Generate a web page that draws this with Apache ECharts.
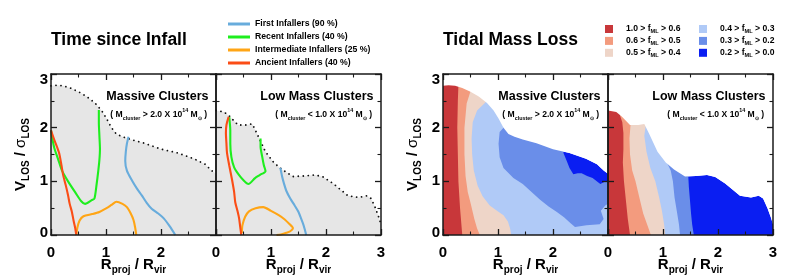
<!DOCTYPE html>
<html><head><meta charset="utf-8">
<script src="https://cdn.jsdelivr.net/npm/echarts@6/dist/echarts.min.js"></script>
<style>html,body{margin:0;padding:0;background:#fff}#c{width:789px;height:280px}</style>
</head><body><div id="c"></div>
<script>
// ---------------- DATA ----------------
const axisTicks = [0, 1, 2, 3];
const figureTitles = ['Time since Infall', 'Tidal Mass Loss'];
const panelTitles = ['Massive Clusters', 'Low Mass Clusters'];
const panelSubtitles = [['>', '2.0'], ['<', '1.0']];
const infallNames = ['First Infallers (90 %)', 'Recent Infallers (40 %)', 'Intermediate Infallers (25 %)', 'Ancient Infallers (40 %)'];
const infallColors = ['#68acdc', '#1eee1e', '#ffa515', '#fb4d16'];
const bandNames = ['1.0 > f_ML > 0.6', '0.6 > f_ML > 0.5', '0.5 > f_ML > 0.4', '0.4 > f_ML > 0.3', '0.3 > f_ML > 0.2', '0.2 > f_ML > 0.0'];
const bandColors = ['#c8373a', '#f39b7e', '#eed5c8', '#b0caf7', '#6a8ee9', '#0a1ef2'];

// envelope of the galaxy distribution (dotted curve / outer edge of the filled map)
const envelopeMassive = [[0,2.78],[0.1,2.79],[0.22,2.78],[0.35,2.74],[0.5,2.67],[0.65,2.58],[0.8,2.46],[0.92,2.32],[1.01,2.17],[1.1,2.0],[1.19,1.88],[1.3,1.83],[1.45,1.78],[1.7,1.71],[2.0,1.6],[2.3,1.53],[2.6,1.42],[2.8,1.32],[2.92,1.2],[3,1.14]];
const envelopeLow = [[0,2.32],[0.15,2.29],[0.25,2.21],[0.4,2.05],[0.55,2.05],[0.66,2.07],[0.75,1.88],[0.9,1.55],[1.05,1.35],[1.2,1.22],[1.4,1.09],[1.6,1.1],[1.8,1.12],[1.95,1.08],[2.13,0.96],[2.4,0.73],[2.6,0.7],[2.74,0.73],[2.82,0.68],[2.9,0.5],[2.96,0.33],[3,0.2]];

// infall-time contours, massive clusters
const firstMassive = [[1.41,1.83],[1.38,1.7],[1.36,1.55],[1.35,1.38],[1.38,1.2],[1.47,1.02],[1.56,0.87],[1.65,0.74],[1.74,0.6],[1.83,0.49],[1.95,0.4],[2.05,0.31],[2.16,0.16],[2.26,0]];
const recentMassive = [[0.87,2.33],[0.87,2.1],[0.88,1.85],[0.89,1.6],[0.88,1.4],[0.86,1.2],[0.83,0.95],[0.79,0.68],[0.74,0.65],[0.62,0.58],[0.55,0.63],[0.45,0.78],[0.31,1.0],[0.2,1.2],[0.13,1.41],[0.06,1.62],[0.02,1.82],[0,1.95]];
const intermediateMassive = [[0.46,0],[0.48,0.14],[0.52,0.27],[0.59,0.35],[0.75,0.39],[0.88,0.43],[1.01,0.5],[1.1,0.56],[1.19,0.62],[1.3,0.58],[1.38,0.52],[1.45,0.4],[1.5,0.28],[1.53,0.14],[1.55,0]];
const ancientMassive = [[0,1.95],[0.05,1.8],[0.11,1.64],[0.15,1.52],[0.19,1.3],[0.22,1.12],[0.27,0.92],[0.31,0.74],[0.34,0.58],[0.38,0.43],[0.41,0.27],[0.44,0.13],[0.46,0]];

// infall-time contours, low-mass clusters
const firstLow = [[1.17,1.25],[1.2,1.1],[1.23,0.98],[1.28,0.82],[1.35,0.68],[1.43,0.55],[1.5,0.43],[1.55,0.3],[1.59,0.19],[1.62,0.08],[1.64,0]];
const recentLow = [[0.81,1.8],[0.81,1.65],[0.84,1.46],[0.87,1.3],[0.9,1.19],[0.8,1.12],[0.71,1.06],[0.59,0.95],[0.5,1.02],[0.41,1.13],[0.33,1.26],[0.28,1.45],[0.26,1.7],[0.26,1.95],[0.24,2.2]];
const intermediateLow = [[0.47,0.04],[0.48,0.18],[0.53,0.34],[0.6,0.44],[0.72,0.5],[0.86,0.52],[1.0,0.45],[1.14,0.37],[1.25,0.29],[1.34,0.2],[1.4,0.13],[1.35,0.07],[1.28,0.04],[1.18,0.01],[1.1,0]];
const ancientLow = [[0.23,2.2],[0.19,2.05],[0.18,1.9],[0.19,1.7],[0.2,1.53],[0.24,1.3],[0.29,1.04],[0.33,0.8],[0.35,0.61],[0.39,0.45],[0.42,0.31],[0.44,0.15],[0.46,0]];

// tidal mass-loss level boundaries (region to the left of each curve has f_ML above the level)
const massiveAbove06 = [[0.28,2.78],[0.27,2.5],[0.26,2.0],[0.27,1.5],[0.28,1.0],[0.31,0.5],[0.35,0]];
const massiveAbove05 = [[0.5,2.68],[0.43,2.45],[0.39,2.0],[0.39,1.5],[0.41,1.1],[0.45,0.8],[0.5,0.6],[0.57,0.3],[0.62,0.12],[0.67,0]];
const massiveAbove04 = [[0.78,2.48],[0.62,2.32],[0.54,2.1],[0.52,1.8],[0.53,1.5],[0.56,1.2],[0.63,0.92],[0.72,0.72],[0.85,0.55],[1.0,0.44],[1.1,0.37],[1.18,0.25],[1.22,0.12],[1.24,0]];
const massiveAbove03 = [[1.1,2.0],[1.03,1.92],[1.01,1.7],[1.03,1.45],[1.1,1.25],[1.28,1.06],[1.45,0.95],[1.59,0.82],[1.76,0.66],[1.92,0.53],[2.07,0.43],[2.2,0.33],[2.32,0.22],[2.4,0.15],[2.61,0.18],[2.85,0.2],[2.92,0.3],[2.87,0.45],[2.95,0.55],[3,0.58]];
const massiveAbove02 = [[2.19,1.53],[2.25,1.38],[2.3,1.25],[2.37,1.13],[2.45,1.15],[2.52,1.15],[2.62,1.1],[2.72,1.06],[2.86,0.95],[2.94,0.99],[3,1.0]];
const lowAbove06 = [[0.22,2.22],[0.26,2.1],[0.28,1.9],[0.28,1.6],[0.27,1.35],[0.29,1.0],[0.33,0.6],[0.36,0.3],[0.4,0]];
const lowAbove05 = [[0.41,2.05],[0.39,1.8],[0.4,1.5],[0.44,1.2],[0.5,1.0],[0.57,0.7],[0.64,0.4],[0.71,0.2],[0.78,0]];
const lowAbove04 = [[0.69,2.07],[0.66,1.85],[0.7,1.55],[0.77,1.25],[0.86,1.0],[0.93,0.7],[0.98,0.45],[1.02,0.2],[1.04,0]];
const lowAbove03 = [[1.08,1.33],[1.14,1.2],[1.18,1.0],[1.21,0.7],[1.25,0.45],[1.29,0.2],[1.31,0]];
const lowAbove02 = [[1.46,1.09],[1.47,0.9],[1.49,0.65],[1.51,0.4],[1.53,0.2],[1.56,0]];

// ---------------- LAYOUT / STYLE ----------------
const FONT = '"Liberation Sans", Arial, Helvetica, sans-serif';
const AX = '#1a1a1a';
const GL = [51, 216, 443, 608], GT = 74, GW = 165, GH = 163;
const XMIN = axisTicks[0], XMAX = axisTicks[axisTicks.length - 1];

const chart = echarts.init(document.getElementById('c'), null, {renderer: 'canvas'});

const nameRich = {
  b: {fontSize: 15, fontWeight: 'bold', fontFamily: FONT, color: '#000', lineHeight: 20, verticalAlign: 'middle'},
  r: {fontSize: 15, fontWeight: 'normal', fontFamily: FONT, color: '#000', lineHeight: 20, verticalAlign: 'middle'},
  s: {fontSize: 10, fontWeight: 'bold', fontFamily: FONT, color: '#000', lineHeight: 10, verticalAlign: 'bottom'}
};
const xName = '{b|R}{s|proj}{b| / R}{s|vir}';
const yName = '{b|V}{s|LOS}{b| / }{r|σ}{s|LOS}';

const tickLabelRich = {
  n: {fontSize: 15, fontWeight: 'bold', fontFamily: FONT, color: '#000'},
  lo: {fontSize: 15, fontWeight: 'bold', fontFamily: FONT, color: '#000', padding: [0, 0, 4, 0]},
  hi: {fontSize: 15, fontWeight: 'bold', fontFamily: FONT, color: '#000', padding: [12, 0, 0, 0]}
};
function yTickFmt(v) { return v === XMIN ? '{lo|' + v + '}' : v === XMAX ? '{hi|' + v + '}' : '{n|' + v + '}'; }

const xAxes = [], yAxes = [];
function tickCfg() {
  return {
    axisLine: {show: true, onZero: false, lineStyle: {color: AX, width: 1.5}},
    axisTick: {show: true, inside: true, length: 6, lineStyle: {color: AX, width: 1.3}},
    minorTick: {show: true, splitNumber: 2, length: 3.5, lineStyle: {color: AX, width: 1.1}},
    splitLine: {show: false}, minorSplitLine: {show: false}
  };
}
for (let g = 0; g < 4; g++) {
  const firstOfPair = (g % 2 === 0);
  xAxes.push(Object.assign({
    gridIndex: g, type: 'value', min: XMIN, max: XMAX, interval: 1, position: 'bottom', z: 10,
    axisLabel: {show: true, fontSize: 15, fontWeight: 'bold', fontFamily: FONT, color: '#000', margin: 10, showMaxLabel: !firstOfPair, showMinLabel: true, hideOverlap: false},
    name: xName, nameLocation: 'middle', nameGap: 20, nameTextStyle: {rich: nameRich}, nameMoveOverlap: false
  }, tickCfg()));
  xAxes.push(Object.assign({
    gridIndex: g, type: 'value', min: XMIN, max: XMAX, interval: 1, position: 'top', z: 10,
    axisLabel: {show: false}
  }, tickCfg()));
  yAxes.push(Object.assign({
    gridIndex: g, type: 'value', min: XMIN, max: XMAX, interval: 1, position: 'left', z: 10,
    axisLabel: {show: firstOfPair, formatter: yTickFmt, rich: tickLabelRich, margin: 3, hideOverlap: false},
    name: firstOfPair ? yName : '', nameLocation: 'middle', nameGap: 20, nameTextStyle: {rich: nameRich}, nameMoveOverlap: false
  }, tickCfg()));
  yAxes.push(Object.assign({
    gridIndex: g, type: 'value', min: XMIN, max: XMAX, interval: 1, position: 'right', z: 10,
    axisLabel: {show: false}
  }, tickCfg()));
}

const series = [];
function lineSeries(name, g, data, color) {
  series.push({type: 'line', name, xAxisIndex: 2 * g, yAxisIndex: 2 * g, data, symbol: 'none', smooth: 0.25,
    lineStyle: {color, width: 2.1}, itemStyle: {color}, z: 3, silent: true, animation: false});
}
function envelopeSeries(g, env) {
  series.push({type: 'line', name: 'envelope', xAxisIndex: 2 * g, yAxisIndex: 2 * g, data: env, symbol: 'none',
    lineStyle: {color: '#111', width: 1.8, type: [0.01, 5], cap: 'round'},
    areaStyle: {color: '#e6e6e6', opacity: 1}, z: 1, silent: true, animation: false});
}
function polySeries(name, g, pts, color, z) {
  series.push({type: 'custom', name, xAxisIndex: 2 * g, yAxisIndex: 2 * g, z, silent: true, animation: false,
    itemStyle: {color}, data: [[1, 1]],
    renderItem: (params, api) => ({type: 'polygon', shape: {points: pts.map(p => api.coord(p))}, style: {fill: color}})});
}
function regionLeftOf(b) {
  const top = b[0], last = b[b.length - 1];
  return [[XMIN, XMAX], [top[0], XMAX]].concat(b, [[last[0], XMIN], [XMIN, XMIN]]);
}
function underEnvelope(env) { return [[XMIN, XMIN]].concat(env, [[XMAX, XMIN]]); }
function aboveEnvelope(env) { return env.concat([[XMAX, XMAX], [XMIN, XMAX]]); }

// left figure
envelopeSeries(0, envelopeMassive);
envelopeSeries(1, envelopeLow);
[[firstMassive, recentMassive, intermediateMassive, ancientMassive], [firstLow, recentLow, intermediateLow, ancientLow]]
  .forEach((set, g) => set.forEach((d, i) => lineSeries(infallNames[i], g, d, infallColors[i])));

// right figure
[[envelopeMassive, [massiveAbove06, massiveAbove05, massiveAbove04, massiveAbove03, massiveAbove02]],
 [envelopeLow, [lowAbove06, lowAbove05, lowAbove04, lowAbove03, lowAbove02]]].forEach(([env, bounds], k) => {
  const g = 2 + k;
  polySeries(bandNames[5], g, underEnvelope(env), bandColors[5], 2);
  for (let i = 4; i >= 0; i--) polySeries(bandNames[i], g, regionLeftOf(bounds[i]), bandColors[i], 2);
  polySeries('mask', g, aboveEnvelope(env), '#ffffff', 4);
});

const bandRich = {
  m: {fontSize: 8.6, fontWeight: 'bold', fontFamily: FONT, color: '#000', lineHeight: 11, verticalAlign: 'middle'},
  s: {fontSize: 5.6, fontWeight: 'bold', fontFamily: FONT, color: '#000', lineHeight: 6, verticalAlign: 'bottom'},
  g: {width: 8, fontSize: 8}
};
function bandFmt(n) { const p = n.split('f_ML'); return '{g| }{m|' + p[0] + 'f}{s|ML}{m|' + p[1] + '}'; }

const legends = [
  {data: infallNames, orient: 'vertical', left: 228, top: 19, icon: 'rect', itemWidth: 22, itemHeight: 3, itemGap: 3,
    padding: 0, selectedMode: false,
    textStyle: {fontSize: 8.7, fontWeight: 'bold', fontFamily: FONT, color: '#000', lineHeight: 10}},
  {data: bandNames.slice(0, 3), orient: 'vertical', left: 605, top: 24.5, icon: 'rect', itemWidth: 8, itemHeight: 8, itemGap: 1.9,
    padding: 0, selectedMode: false, formatter: bandFmt, textStyle: {rich: bandRich}},
  {data: bandNames.slice(3), orient: 'vertical', left: 699, top: 24.5, icon: 'rect', itemWidth: 8, itemHeight: 8, itemGap: 1.9,
    padding: 0, selectedMode: false, formatter: bandFmt, textStyle: {rich: bandRich}}
];

const graphics = [];
figureTitles.forEach((t, i) => graphics.push({type: 'text', x: GL[2 * i], y: 40, z: 100,
  style: {text: t, font: 'bold 17.5px ' + FONT, fill: '#000', textAlign: 'left', textVerticalAlign: 'middle', align: 'left', verticalAlign: 'middle'}}));
const subRich = {
  m: {fontSize: 8.6, fontWeight: 'bold', fontFamily: FONT, fill: '#000', lineHeight: 13, verticalAlign: 'middle'},
  s: {fontSize: 5.4, fontWeight: 'bold', fontFamily: FONT, fill: '#000', lineHeight: 6, verticalAlign: 'bottom'},
  u: {fontSize: 5.4, fontWeight: 'bold', fontFamily: FONT, fill: '#000', lineHeight: 6, verticalAlign: 'top'}
};
for (let g = 0; g < 4; g++) {
  const k = g % 2, right = GL[g] + GW;
  graphics.push({type: 'text', x: right - 7.5, y: 96.5, z: 100,
    style: {text: panelTitles[k], font: 'bold 12.5px ' + FONT, fill: '#000', textAlign: 'right', textVerticalAlign: 'middle', align: 'right', verticalAlign: 'middle'}});
  const [op, val] = panelSubtitles[k];
  graphics.push({type: 'text', x: right - 9, y: 115, z: 100,
    style: {text: '{m|( M}{s|cluster}{m| ' + op + ' ' + val + ' X 10}{u|14}{m| M}{s|⊙}{m| )}', rich: subRich,
      textAlign: 'right', textVerticalAlign: 'middle', align: 'right', verticalAlign: 'middle'}});
}

chart.setOption({
  animation: false,
  backgroundColor: '#fff',
  grid: GL.map(l => ({left: l, top: GT, width: GW, height: GH, containLabel: false})),
  xAxis: xAxes, yAxis: yAxes,
  legend: legends,
  series,
  graphic: {elements: graphics}
});
</script></body></html>
